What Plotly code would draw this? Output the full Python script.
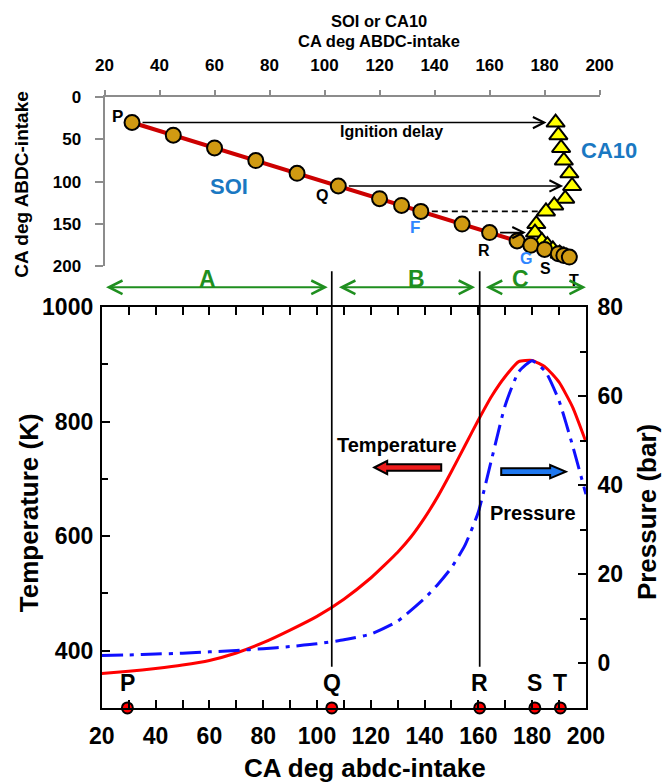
import plotly.graph_objects as go

# ---------------- data ----------------
# Top panel: start of injection (SOI) and CA10, both in CA deg ABDC-intake
soi = [30, 45, 60, 75, 90, 105, 120, 128, 135, 150, 160, 170, 175, 180, 185, 187, 189]
ca10 = [184, 185, 186, 187, 189, 190, 187.5, 183.5, 180.5, 177, 176.5, 179, 181, 183, 185.5, 187, 188]
delay_idx = [0, 5, 10]          # solid ignition-delay arrows (P, Q, R)
delay_dash_idx = [8]            # dashed arrow (F)

# Bottom panel: temperature (K) and pressure (bar) vs crank angle
temp_x = [20, 30, 40, 50, 60, 70, 80, 90, 100, 110, 120, 125, 130, 135, 140, 145, 150, 155, 160,
          165, 170, 175, 180, 185, 190, 195, 200]
temp_k = [360, 364, 369, 375, 383, 396, 414, 436, 460, 490, 527, 549, 572, 599, 632, 670, 713, 758, 803,
          845, 879, 905, 907, 895, 869, 826, 765]
pres_x = [20, 30, 40, 50, 60, 70, 80, 90, 100, 110, 120, 130, 140, 145, 150, 155, 160, 165, 170,
          175, 180, 185, 190, 195, 200]
pres_bar = [1.8, 1.9, 2.1, 2.3, 2.6, 2.9, 3.3, 3.8, 4.4, 5.3, 6.6, 9.5, 14.6, 17.8, 21.5, 26.5, 34, 46,
            58, 65.5, 68, 65.5, 59, 49, 38]

mark_labels = ["P", "Q", "R", "S", "T"]
mark_x = [29.5, 105.5, 160.5, 181, 190.5]

x_ticks = [20, 40, 60, 80, 100, 120, 140, 160, 180, 200]

FONT = "Liberation Sans, Arial, sans-serif"
BLUE_TXT = "#1a78c2"
BLUE_LT = "#2f86ff"
GREEN = "#1f8f1f"

# mapping from reference-picture pixels to figure fractions (measured page scaling)
SX, BX, SY, BY = 0.955, 11.0, 0.975, 8.5
W, H = 684, 786
def px(xr):
    return ((xr - BX) / SX) / W
def py(yr):
    return 1 - ((yr - BY) / SY) / H

fig = go.Figure()

# ---------------- top panel traces ----------------
fig.add_trace(go.Scatter(
    x=ca10, y=soi, xaxis="x2", yaxis="y3", mode="markers",
    marker=dict(symbol="triangle-up", size=16, color="#ffff00", line=dict(color="black", width=2)),
    showlegend=False, cliponaxis=False))

for i in delay_dash_idx:
    fig.add_trace(go.Scatter(
        x=[soi[i] + 4, ca10[i] - 3], y=[soi[i], soi[i]], xaxis="x2", yaxis="y3", mode="lines",
        line=dict(color="black", width=1.7, dash="6px,4px"), showlegend=False, hoverinfo="skip"))

fig.add_trace(go.Scatter(
    x=soi, y=soi, xaxis="x2", yaxis="y3", mode="lines+markers",
    line=dict(color="#cc0000", width=4),
    marker=dict(symbol="circle", size=15, color="#d09a12", line=dict(color="black", width=2)),
    showlegend=False, cliponaxis=False))

# ---------------- bottom panel traces ----------------
fig.add_trace(go.Scatter(
    x=pres_x, y=pres_bar, xaxis="x", yaxis="y2", mode="lines",
    line=dict(color="#1010ff", width=3, dash="21px,7px,4px,7px", shape="spline", smoothing=0.5),
    showlegend=False))
fig.add_trace(go.Scatter(
    x=temp_x, y=temp_k, xaxis="x", yaxis="y", mode="lines",
    line=dict(color="#ff0000", width=3, shape="spline", smoothing=0.5),
    showlegend=False))
fig.add_trace(go.Scatter(
    x=mark_x, y=[300] * len(mark_x), xaxis="x", yaxis="y", mode="markers",
    marker=dict(symbol="circle", size=11, color="#ff0000", line=dict(color="black", width=2)),
    showlegend=False, cliponaxis=False))

# ---------------- annotations ----------------
ann = []
def txt(text, x, y, xref, yref, size, color="black", bold=True, angle=0, xanchor="center"):
    ann.append(dict(text=text, x=x, y=y, xref=xref, yref=yref, showarrow=False,
                    textangle=angle, xanchor=xanchor, yanchor="middle",
                    font=dict(family=FONT, size=size, color=color, weight="bold" if bold else "normal")))

# titles
txt("SOI or CA10", px(378), py(16.7), "paper", "paper", 16.5)
txt("CA deg ABDC-intake", px(378), py(37), "paper", "paper", 16.5)
txt("CA deg ABDC-intake", px(20), py(180), "paper", "paper", 19, angle=-90)
txt("Temperature (K)", px(27), py(510), "paper", "paper", 26, angle=-90)
txt("Pressure (bar)", px(646), py(510), "paper", "paper", 26, angle=-90)
txt("CA deg abdc-intake", px(364), py(767), "paper", "paper", 26)

# top panel labels
txt("P", 24.8, 23.3, "x2", "y3", 17)
txt("Q", 99.2, 115.8, "x2", "y3", 16)
txt("R", 158, 180.7, "x2", "y3", 16)
txt("S", px(544), py(265), "paper", "paper", 16)
txt("T", px(573), py(277), "paper", "paper", 16)
txt("F", 133, 153.9, "x2", "y3", 17, color=BLUE_LT)
txt("G", px(525), py(255.5), "paper", "paper", 16, color=BLUE_LT)
txt("SOI", 65.1, 105.5, "x2", "y3", 22, color=BLUE_TXT)
txt("CA10", px(608), py(147), "paper", "paper", 22, color=BLUE_TXT)
txt("Ignition delay", 124.3, 40.7, "x2", "y3", 16)

# ignition delay arrows
for i in delay_idx:
    ann.append(dict(x=ca10[i], y=soi[i], ax=soi[i], ay=soi[i], xref="x2", yref="y3",
                    axref="x2", ayref="y3", text="", showarrow=True, arrowhead=5,
                    arrowsize=1.3, arrowwidth=1.7, arrowcolor="black", standoff=9, startstandoff=9))
for i in delay_dash_idx:
    ann.append(dict(x=ca10[i], y=soi[i], ax=ca10[i] - 3.5, ay=soi[i], xref="x2", yref="y3",
                    axref="x2", ayref="y3", text="", showarrow=True, arrowhead=5,
                    arrowsize=1.3, arrowwidth=1.7, arrowcolor="black", standoff=9))

# A / B / C region arrows
regions = [("A", 21, 104, 59.3), ("B", 107.6, 158.8, 137), ("C", 162.2, 200, 175.5)]
for name, x0, x1, xl in regions:
    ann.append(dict(x=x1, y=py(284), ax=x0, ay=0, xref="x", yref="paper", axref="x", ayref="pixel",
                    text="", showarrow=True, arrowhead=5, arrowside="end+start", arrowsize=1.4,
                    arrowwidth=1.9, arrowcolor=GREEN))
    txt(name, xl, py(275.5), "x", "paper", 23, color=GREEN)

# bottom panel texts
txt("Temperature", 129.9, 760, "x", "y", 20)
txt("Pressure", 180.4, 640, "x", "y", 20)
for lab, xv in zip(mark_labels, mark_x):
    txt(lab, xv, py(681), "x", "paper", 23)

# ---------------- shapes ----------------
shapes = []
for xv in [mark_x[1], mark_x[2]]:
    shapes.append(dict(type="line", xref="x", yref="paper", x0=xv, x1=xv, y0=py(665), y1=py(268),
                       line=dict(color="black", width=1.7)))

def block_arrow(tail, tip, yc, hl, hh, sh):
    d = 1 if tip > tail else -1
    hb = tip - d * hl
    pts = [(tip, yc), (hb, yc + hh), (hb, yc + sh), (tail, yc + sh), (tail, yc - sh),
           (hb, yc - sh), (hb, yc - hh)]
    return "M " + " L ".join(f"{a},{b}" for a, b in pts) + " Z"

shapes.append(dict(type="path", xref="x", yref="y", path=block_arrow(146.2, 121.3, 720, 4.8, 11.6, 5.8),
                   fillcolor="#ee1c1c", line=dict(color="black", width=2)))
shapes.append(dict(type="path", xref="x", yref="y", path=block_arrow(168.5, 192.5, 712.7, 5.8, 11.6, 5.8),
                   fillcolor="#1f78f0", line=dict(color="black", width=2)))

# ---------------- layout ----------------
tick_big = dict(family=FONT, size=23, color="black", weight="bold")
tick_small = dict(family=FONT, size=17, color="black", weight="bold")

fig.update_layout(
    width=W, height=H, margin=dict(l=0, r=0, t=0, b=0),
    paper_bgcolor="white", plot_bgcolor="white", showlegend=False,
    annotations=ann, shapes=shapes,
    xaxis=dict(domain=[px(100), px(585)], anchor="y", range=[20, 200], tickvals=x_ticks,
               ticks="inside", ticklen=8, tickwidth=2, tickcolor="black",
               minor=dict(dtick=10, tick0=0, ticks="inside", ticklen=6, tickwidth=2, tickcolor="black"),
               showline=True, linewidth=2, linecolor="black", mirror="allticks",
               showgrid=False, zeroline=False, tickfont=tick_big, ticklabelstandoff=6),
    yaxis=dict(domain=[py(706.5), py(304)], anchor="x", range=[300, 1000], tick0=0, dtick=200,
               ticks="inside", ticklen=8, tickwidth=2, tickcolor="black",
               minor=dict(dtick=100, tick0=0, ticks="inside", ticklen=6, tickwidth=2, tickcolor="black"),
               showline=True, linewidth=2, linecolor="black", showgrid=False, zeroline=False,
               tickfont=tick_big, ticklabelstandoff=2),
    yaxis2=dict(overlaying="y", anchor="x", side="right", range=[-10, 80], tick0=0, dtick=20,
                ticks="inside", ticklen=8, tickwidth=2, tickcolor="black",
                minor=dict(dtick=10, tick0=0, ticks="inside", ticklen=6, tickwidth=2, tickcolor="black"),
                showline=True, linewidth=2, linecolor="black", showgrid=False, zeroline=False,
                tickfont=tick_big, ticklabelstandoff=5),
    xaxis2=dict(domain=[px(102.7), px(598.7)], anchor="y3", side="top", range=[20, 200], tickvals=x_ticks,
                ticks="outside", ticklen=5, tickwidth=2, tickcolor="#8c8c8c",
                showline=True, linewidth=2, linecolor="#8c8c8c", showgrid=False, zeroline=False,
                tickfont=tick_small, ticklabelstandoff=12),
    yaxis3=dict(domain=[py(263), py(93)], anchor="x2", range=[200, 0], tick0=0, dtick=50,
                ticks="outside", ticklen=8, tickwidth=2, tickcolor="#8c8c8c",
                showline=True, linewidth=2, linecolor="#8c8c8c", showgrid=False, zeroline=False,
                tickfont=tick_small, ticklabelstandoff=10),
)

fig.write_html("out.html")
